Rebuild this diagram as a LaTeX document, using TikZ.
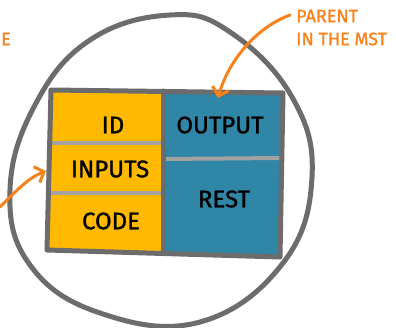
\documentclass[tikz,border=0pt]{standalone}
\usepackage{fontspec}
\setmainfont{Fira Sans}
\newfontfamily\inkfont[FakeBold=1.2]{Fira Sans}
\usetikzlibrary{arrows.meta}
\definecolor{cellyellow}{HTML}{FFB901}
\definecolor{cellblue}{HTML}{2F86A6}
\definecolor{rim}{HTML}{6C6C6C}
\definecolor{seam}{HTML}{A2A2A2}
\definecolor{note}{HTML}{F7821B}
\tikzset{
  outline/.style={draw=rim, line width=5pt, line join=round, line cap=round},
  seamline/.style={draw=seam, line width=4pt},
  celltext/.style={font=\inkfont\fontsize{24}{24}\selectfont, text=black, inner sep=0pt},
  notetext/.style={font=\inkfont\fontsize{18}{18}\selectfont, text=note, inner sep=0pt},
  pointer/.style={draw=note, line width=3pt, line cap=round, line join=round,
    -{Straight Barb[length=8pt, width=17pt, line width=3pt]}},
}
\begin{document}
\begin{tikzpicture}[x=1pt, y=-1pt]
\useasboundingbox (0,0) rectangle (396,327);

% enclosing loop
\draw[outline] plot[smooth cycle, tension=0.7] coordinates {
  (10,190) (30,265) (100,313) (200,322) (283,263) (312,177)
  (292,97) (230,32) (170,15) (90,40) (35,105)};

% cells
\fill[cellyellow] (51,90) -- (163,91) -- (163,253) -- (47,250) -- cycle;
\fill[cellblue] (163,91) -- (283,93) -- (280,257) -- (163,253) -- cycle;
\draw[seamline] (50,143) -- (163,143);
\draw[seamline] (49,193) -- (163,193);
\draw[seamline] (163,159) -- (281,158);
\draw[outline] (163,91) -- (163,253);
\draw[outline] (51,90) -- (283,93) -- (280,257) -- (47,250) -- cycle;

% labels
\node[celltext] (id) at (113,125) {ID};
\node[celltext] (inputs) at (110,169) {INPUTS};
\node[celltext] (code) at (111,221) {CODE};
\node[celltext] (output) at (220,125) {OUTPUT};
\node[celltext] (rest) at (224,199) {REST};

% annotations
\node[notetext, anchor=west] (parent) at (296,16) {PARENT};
\node[notetext, anchor=west] (mst) at (296,39) {IN THE MST};
\node[notetext, anchor=east] (edge) at (11,39) {E};
\coordinate (ptop) at (290,15);
\coordinate (ptip) at (218,98);
\coordinate (pleft) at (0,207);
\coordinate (ltip) at (46,171);

\draw[pointer] (ptop) .. controls (255,28) and (228,62) .. (ptip);
\draw[pointer] (pleft) .. controls (15,192) and (28,178) .. (ltip);
\end{tikzpicture}
\end{document}
